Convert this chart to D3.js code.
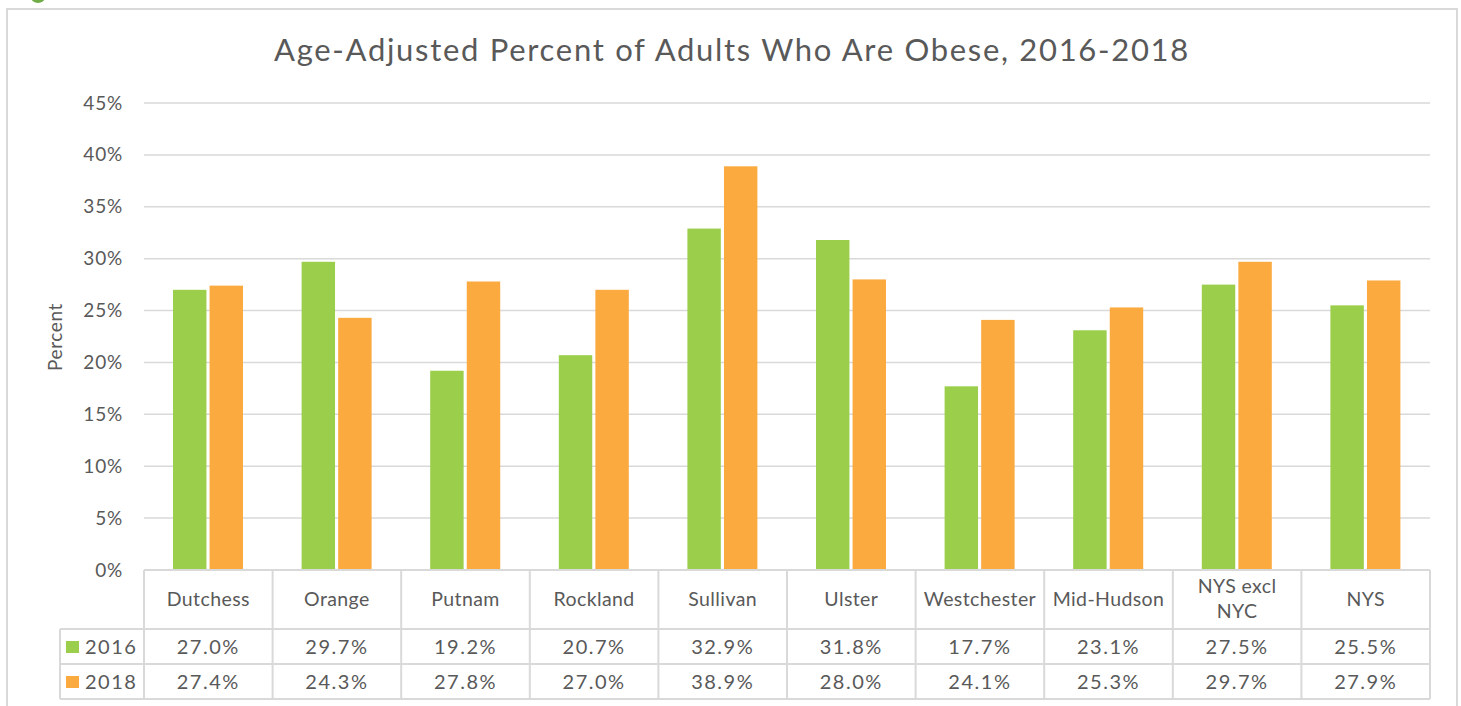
<!DOCTYPE html>
<html><head><meta charset="utf-8">
<script src="https://cdn.jsdelivr.net/npm/d3@7"></script>
<style>body{margin:0;background:#fff}svg{display:block}text{font-family:"Century Gothic",Lato,"Open Sans",sans-serif;fill:#595959}</style>
</head><body><svg id="c" width="1461" height="706"></svg>
<script>
const categories = ["Dutchess","Orange","Putnam","Rockland","Sullivan","Ulster","Westchester","Mid-Hudson","NYS excl NYC","NYS"];
const seriesNames = ["2016","2018"];
const values2016 = [27.0,29.7,19.2,20.7,32.9,31.8,17.7,23.1,27.5,25.5];
const values2018 = [27.4,24.3,27.8,27.0,38.9,28.0,24.1,25.3,29.7,27.9];
const yTicks = [0,5,10,15,20,25,30,35,40,45];
const colors = ["#9BCF4B","#FBAA3F"];

const svg = d3.select("#c");
const L = 144, R = 1430, T = 103, B = 570;
const grid = "#d9d9d9";

// outer frame
svg.append("rect").attr("x",7).attr("y",9).attr("width",1450).attr("height",720)
  .attr("fill","none").attr("stroke",grid).attr("stroke-width",2);
svg.append("ellipse").attr("cx",38).attr("cy",-3).attr("rx",7).attr("ry",6).attr("fill","#70AD47");

const x = d3.scaleBand().domain(categories).range([L,R]).padding(0);
const y = d3.scaleLinear().domain([0,45]).range([B,T]);
const sub = d3.scaleBand().domain(seriesNames).range([29,99]).paddingInner(6/70);

// gridlines
svg.append("g").selectAll("line").data(yTicks).join("line")
  .attr("x1",L).attr("x2",R).attr("y1",d=>y(d)).attr("y2",d=>y(d))
  .attr("stroke",grid).attr("stroke-width",1.5);

// y axis labels
const yAxis = d3.axisLeft(y).tickValues(yTicks).tickFormat(d=>d+"%").tickSize(0).tickPadding(21);
const ga = svg.append("g").attr("transform",`translate(${L},0)`).call(yAxis);
ga.select(".domain").remove();
ga.selectAll("text").attr("font-size",19).attr("letter-spacing",0.8)
  .style("font-family",'"Century Gothic",Lato,"Open Sans",sans-serif').attr("fill","#595959");

// bars
const series = [values2016, values2018];
series.forEach((vals,si)=>{
  svg.append("g").selectAll("rect").data(categories).join("rect")
    .attr("x",(c)=>x(c)+sub(seriesNames[si]))
    .attr("width",sub.bandwidth())
    .attr("y",(c,i)=>y(vals[i]))
    .attr("height",(c,i)=>B-y(vals[i]))
    .attr("fill",colors[si]);
});

// title
svg.append("text").attr("x",732).attr("y",61).attr("text-anchor","middle")
  .attr("font-size",31).attr("letter-spacing",1.7).text("Age-Adjusted Percent of Adults Who Are Obese, 2016-2018");

// y label
svg.append("text").attr("transform","translate(62,337) rotate(-90)").attr("text-anchor","middle")
  .attr("font-size",19).attr("letter-spacing",0.6).text("Percent");

// data table
const rows = [570,629,664,699];
const tg = svg.append("g").attr("stroke",grid).attr("stroke-width",2).attr("fill","none");
tg.append("line").attr("x1",L).attr("x2",R).attr("y1",rows[0]).attr("y2",rows[0]);
rows.slice(1).forEach(r=>tg.append("line").attr("x1",60).attr("x2",R).attr("y1",r).attr("y2",r));
const vx = categories.map(c=>x(c)).concat([R]);
vx.forEach(v=>tg.append("line").attr("x1",v).attr("x2",v).attr("y1",rows[0]).attr("y2",rows[3]));
tg.append("line").attr("x1",60).attr("x2",60).attr("y1",rows[1]).attr("y2",rows[3]);

// category labels
const catG = svg.append("g");
categories.forEach(c=>{
  const cx = x(c)+x.bandwidth()/2;
  if(c==="NYS excl NYC"){
    catG.append("text").attr("x",cx).attr("y",593).attr("text-anchor","middle").attr("font-size",19.5).attr("letter-spacing",0.4).text("NYS excl");
    catG.append("text").attr("x",cx).attr("y",618).attr("text-anchor","middle").attr("font-size",19.5).attr("letter-spacing",0.4).text("NYC");
  } else {
    catG.append("text").attr("x",cx).attr("y",606).attr("text-anchor","middle").attr("font-size",19.5).attr("letter-spacing",0.4).text(c);
  }
});
// values rows
series.forEach((vals,si)=>{
  const ry = (rows[si+1]+rows[si+2])/2 + 7;
  svg.append("g").selectAll("text").data(categories).join("text")
    .attr("x",c=>x(c)+x.bandwidth()/2).attr("y",ry).attr("text-anchor","middle")
    .attr("font-size",20).attr("letter-spacing",1.5).text((c,i)=>vals[i].toFixed(1)+"%");
  svg.append("rect").attr("x",66).attr("y",rows[si+1]+12).attr("width",13).attr("height",12).attr("fill",colors[si]);
  svg.append("text").attr("x",85).attr("y",ry).attr("font-size",20).attr("letter-spacing",1.5).text(seriesNames[si]);
});
</script></body></html>
